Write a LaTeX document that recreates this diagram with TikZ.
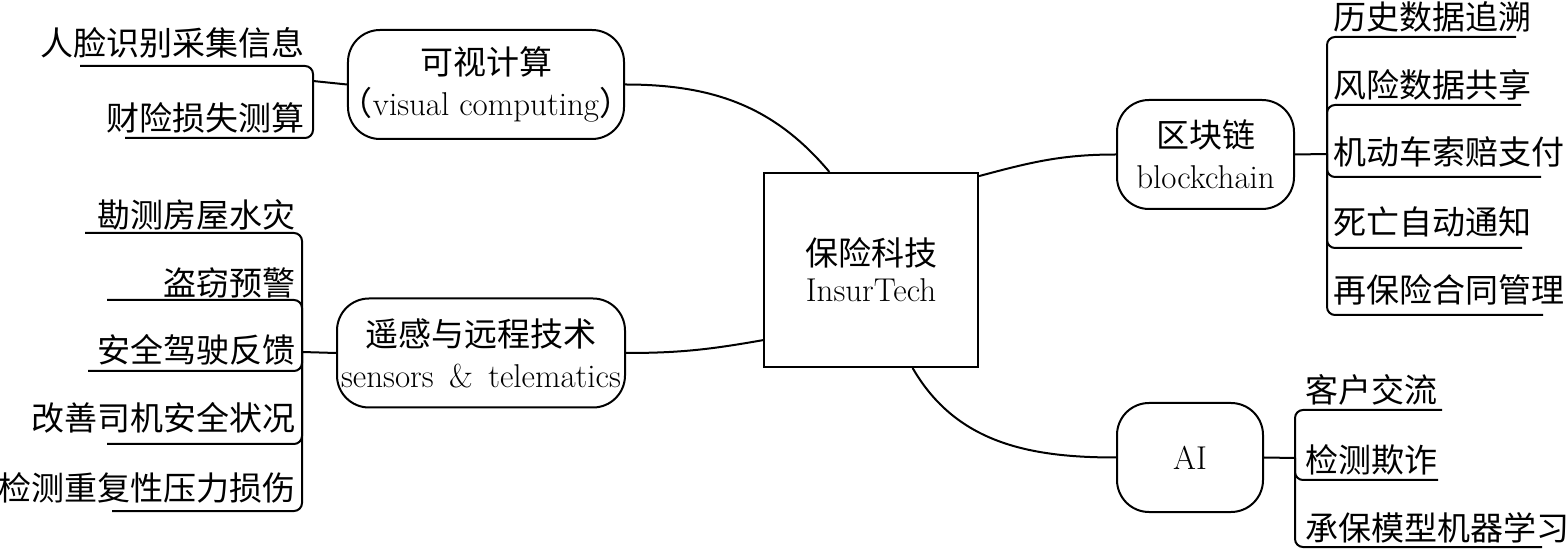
\documentclass[tikz,border=0pt]{standalone}
\usepackage{fontspec}
\newfontfamily\cjk{Noto Sans CJK SC}
\newcommand\zh{\cjk\fontsize{16.5pt}{20.5pt}\selectfont}
\begin{document}
\begin{tikzpicture}[x=0.5pt,y=-0.5pt,
  topic/.style={draw, line width=1pt, rounded corners=16pt, align=center, inner sep=0pt,
    minimum height=54.5pt, font=\fontsize{16.5pt}{20.5pt}\selectfont},
  core/.style={draw, line width=1pt, align=center, inner sep=0pt,
    minimum width=107pt, minimum height=97pt, font=\fontsize{16.5pt}{18pt}\selectfont},
  leaf/.style={inner sep=0pt, font=\zh},
  link/.style={line width=1pt},
  branch/.style={line width=1pt, rounded corners=4pt}]
\useasboundingbox (0,0) rectangle (1567,549);

% main topic and its four branches
\node[core] (core) at (871,270) {{\zh 保险科技}\\InsurTech};
\node[topic, minimum width=138pt] (vis) at (486,84.5) {{\zh 可视计算}\\\kern-4pt{\zh （}visual computing{\zh ）}\kern-4pt};
\node[topic, minimum width=144pt] (sens) at (481,353) {{\zh 遥感与远程技术}\\sensors\ \,\&\,\ telematics};
\node[topic, minimum width=88.5pt] (chain) at (1205.5,154.5) {{\zh 区块链}\\blockchain};
\node[topic, minimum width=73pt] (ai) at (1190,457.5) {AI};

\draw[link] (core.113) to[out=130,in=0] (vis.east);
\draw[link] (core.213) to[out=190,in=0] (sens.east);
\draw[link] (core.41) to[out=15,in=180] (chain.west);
\draw[link] (core.293) to[out=-60,in=180] (ai.west);

% visual computing
\coordinate (vHub) at (313,81);
\draw[link] (vis.west) -- (vHub);
\node[leaf, anchor=east] (v1) at (305,43) {人脸识别采集信息};
\node[leaf, anchor=east] (v2) at (305,118) {财险损失测算};
\coordinate (v1u) at (80,66);
\coordinate (v2u) at (125,138);
\draw[branch] (vHub) |- (v1u);
\draw[branch] (vHub) |- (v2u);

% sensors & telematics
\coordinate (sHub) at (302,352);
\draw[link] (sens.west) -- (sHub);
\node[leaf, anchor=east] (s1) at (296,215) {勘测房屋水灾};
\node[leaf, anchor=east] (s2) at (296,283) {盗窃预警};
\node[leaf, anchor=east] (s3) at (296,350) {安全驾驶反馈};
\node[leaf, anchor=east] (s4) at (296,418) {改善司机安全状况};
\node[leaf, anchor=east] (s5) at (296,488) {检测重复性压力损伤};
\coordinate (s1u) at (85,233);
\coordinate (s2u) at (107,300);
\coordinate (s3u) at (88,371);
\coordinate (s4u) at (107,444);
\coordinate (s5u) at (112,511);
\draw[branch] (sHub) |- (s1u);
\draw[branch] (sHub) |- (s2u);
\draw[branch] (sHub) |- (s3u);
\draw[branch] (sHub) |- (s4u);
\draw[branch] (sHub) |- (s5u);

% blockchain
\coordinate (cHub) at (1327,154);
\draw[link] (chain.east) -- (cHub);
\node[leaf, anchor=west] (c1) at (1333,17) {历史数据追溯};
\node[leaf, anchor=west] (c2) at (1333,85) {风险数据共享};
\node[leaf, anchor=west] (c3) at (1333,152) {机动车索赔支付};
\node[leaf, anchor=west] (c4) at (1333,222) {死亡自动通知};
\node[leaf, anchor=west] (c5) at (1333,290) {再保险合同管理};
\coordinate (c1u) at (1516,37);
\coordinate (c2u) at (1521,105);
\coordinate (c3u) at (1541,177);
\coordinate (c4u) at (1522,248);
\coordinate (c5u) at (1543,315);
\draw[branch] (cHub) |- (c1u);
\draw[branch] (cHub) |- (c2u);
\draw[branch] (cHub) |- (c3u);
\draw[branch] (cHub) |- (c4u);
\draw[branch] (cHub) |- (c5u);

% AI
\coordinate (aHub) at (1295,458);
\draw[link] (ai.east) -- (aHub);
\node[leaf, anchor=west] (a1) at (1305,390) {客户交流};
\node[leaf, anchor=west] (a2) at (1305,460) {检测欺诈};
\node[leaf, anchor=west] (a3) at (1305,528) {承保模型机器学习};
\coordinate (a1u) at (1442,410);
\coordinate (a2u) at (1438,480);
\coordinate (a3u) at (1542,547);
\draw[branch] (aHub) |- (a1u);
\draw[branch] (aHub) |- (a2u);
\draw[branch] (aHub) |- (a3u);
\end{tikzpicture}
\end{document}
